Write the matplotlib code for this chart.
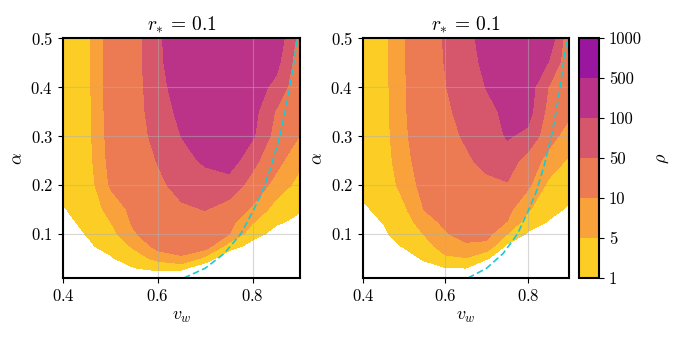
import numpy as np
import matplotlib
matplotlib.use("Agg")
import matplotlib.pyplot as plt

plt.rcParams['font.family'] = 'serif'
plt.rcParams['font.serif'] = ['cmr10', 'DejaVu Serif']
plt.rcParams['mathtext.fontset'] = 'cm'
plt.rcParams['axes.formatter.use_mathtext'] = True

vw = [0.40, 0.45, 0.50, 0.55, 0.60, 0.65, 0.70, 0.75, 0.80, 0.85, 0.90]
alpha = [0.01, 0.03, 0.05, 0.075, 0.10, 0.125, 0.15, 0.20, 0.25, 0.30, 0.35, 0.40, 0.45, 0.50]

# rho, one row per alpha value, one column per v_w value
rho_left = [
    [0.70, 0.75, 0.65, 0.70, 0.65, 0.55, 0.10, 0.0, 0.15, 0.10, 0.25],
    [0.74, 0.81, 0.78, 0.98, 2.0, 1.9, 0.6, 0.2, 0.3, 0.28, 0.38],
    [0.78, 0.87, 0.95, 3.0, 6.5, 9.5, 3.7, 0.53, 0.45, 0.45, 0.5],
    [0.82, 0.93, 2.1, 5.8, 26, 22, 31, 3.1, 0.81, 0.64, 0.62],
    [0.87, 1.1, 3.5, 9.5, 32, 30, 38, 11, 2.4, 0.85, 0.75],
    [0.93, 1.5, 4.95, 18, 35, 37, 44, 24, 5.5, 1.5, 0.9],
    [0.98, 1.9, 6.9, 22, 37, 45, 51, 37, 9.2, 3.1, 1.3],
    [1.8, 2.6, 15, 27, 43, 64, 75, 74, 38, 8.2, 3.5],
    [2.4, 3.2, 23, 30, 52, 82, 170, 340, 62, 24, 6.2],
    [2.8, 3.5, 27, 32, 65, 108, 260, 365, 155, 34, 9.9],
    [3.0, 3.6, 30, 33, 75, 200, 320, 375, 240, 46, 14],
    [3.2, 3.7, 31, 33, 82, 300, 360, 385, 300, 86, 18],
    [3.3, 3.75, 32, 34, 88, 380, 390, 390, 340, 220, 24],
    [3.4, 3.8, 32, 34, 90, 420, 410, 400, 380, 390, 34],
]

rho_right = [
    [0.70, 0.72, 0.62, 0.65, 0.62, 0.60, 0.30, 0.20, 0.25, 0.30, 0.28],
    [0.74, 0.78, 0.72, 0.86, 0.98, 0.99, 0.50, 0.40, 0.40, 0.42, 0.38],
    [0.77, 0.82, 0.85, 1.4, 4.2, 4.8, 1.4, 0.60, 0.58, 0.55, 0.48],
    [0.81, 0.88, 1.2, 3.4, 7.5, 8.8, 8.5, 0.88, 0.75, 0.70, 0.59],
    [0.86, 0.95, 2.2, 5.3, 9.4, 31, 24, 4.95, 0.94, 0.84, 0.71],
    [0.90, 1.1, 3.2, 7.8, 20, 34, 30, 9.9, 3.0, 0.98, 0.83],
    [0.96, 1.6, 4.3, 12, 26, 37, 35, 22, 5.6, 2.0, 0.95],
    [1.6, 2.4, 7.0, 26, 32, 41, 44, 47, 19, 4.1, 2.5],
    [2.2, 3.0, 8.5, 31, 37, 46, 59, 75, 34, 8.4, 4.4],
    [2.6, 3.4, 9.2, 35, 42, 54, 70, 140, 88, 26, 7.9],
    [2.9, 3.6, 9.5, 37, 45, 62, 82, 220, 260, 38, 18],
    [3.1, 3.7, 9.6, 39, 49, 69, 116, 280, 320, 49, 20],
    [3.3, 3.75, 9.7, 40, 51, 75, 220, 330, 350, 99, 21],
    [3.4, 3.8, 9.75, 41, 52, 80, 300, 360, 380, 420, 22],
]

# dashed curve
vw_curve = [0.655, 0.70, 0.74, 0.775, 0.80, 0.82, 0.84, 0.86, 0.875, 0.885, 0.895]
alpha_curve = [0.01, 0.03, 0.06, 0.10, 0.145, 0.185, 0.24, 0.31, 0.38, 0.44, 0.50]

levels = [1, 5, 10, 50, 100, 500, 1000]
level_labels = ['1', '5', '10', '50', '100', '500', '1000']
colors = ['#fcce25', '#f9a13a', '#ec7b54', '#d6566b', '#ba3388', '#9a169f']

# equal-width bands between the contour levels
rho_edges = [0] + levels
band_edges = [-2] + list(range(len(levels)))

X, Y = np.meshgrid(vw, alpha)

fig = plt.figure(figsize=(6.74, 3.37), dpi=100)
ax1 = fig.add_axes([0.0935, 0.175, 0.3516, 0.712])
ax2 = fig.add_axes([0.5386, 0.175, 0.3056, 0.712])
cax = fig.add_axes([0.859, 0.175, 0.0297, 0.712])

for ax, rho in [(ax1, rho_left), (ax2, rho_right)]:
    band = np.interp(np.array(rho, dtype=float), rho_edges, band_edges)
    cs = ax.contourf(X, Y, band, levels=np.arange(len(levels)), colors=colors)
    ax.plot(vw_curve, alpha_curve, color='#1ec8d2', ls='--', lw=1.2, dashes=(4, 2))
    ax.set_xlim(0.4, 0.9)
    ax.set_ylim(0.01, 0.5)
    ax.set_xticks([0.4, 0.6, 0.8])
    ax.set_yticks([0.1, 0.2, 0.3, 0.4, 0.5])
    ax.grid(True, color='#b0b0b0', lw=0.8, alpha=0.5)
    ax.tick_params(labelsize=12)
    ax.set_title(r'$r_{\ast}\, =\, 0.1$', fontsize=14)
    ax.set_xlabel(r'$v_w$', fontsize=13)
    ax.set_ylabel(r'$\alpha$', fontsize=13)
    for s in ax.spines.values():
        s.set_linewidth(1.5)

cb = fig.colorbar(cs, cax=cax)
cb.set_ticks(range(len(levels)))
cb.set_ticklabels(level_labels)
cb.ax.tick_params(labelsize=12)
cb.outline.set_linewidth(1.5)
cb.set_label(r'$\rho$', fontsize=13, labelpad=10)

fig.savefig('out.png', dpi=100)
